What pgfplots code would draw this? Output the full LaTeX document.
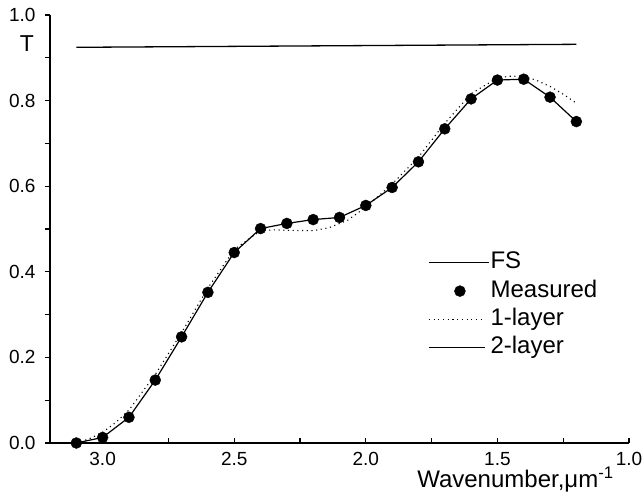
\documentclass[border=0pt]{standalone}
\usepackage{pgfplots}
\pgfplotsset{compat=1.18}
\usepackage{fontspec}
\setmainfont{Liberation Sans}
\pgfplotsset{
  lineleg/.style={legend image code/.code={\draw[##1] (0bp,0bp) -- (#1,0bp);}},
  markleg/.style={legend image code/.code={\draw[mark repeat=2,mark phase=2,##1] plot coordinates {(0bp,0bp) (31bp,0bp) (62bp,0bp)};}},
}
\begin{document}
\begin{tikzpicture}
\path[use as bounding box] (0,0) rectangle (642bp,492bp);
\begin{axis}[
  at={(50bp,49bp)}, anchor=south west,
  scale only axis, width=579bp, height=428bp,
  x dir=reverse,
  xmin=1.0, xmax=3.2, ymin=0, ymax=1.0,
  clip=false,
  axis x line*=bottom, axis y line*=left,
  axis line style={line width=1.4bp},
  xtick={1.0,1.5,2.0,2.5,3.0}, minor x tick num=1,
  ytick={0,0.2,0.4,0.6,0.8,1.0}, minor y tick num=1,
  tick align=outside,
  major tick length=5bp, minor tick length=5bp,
  tick style={line width=1.2bp, black},
  x tick style={yshift=5bp},
  /pgf/number format/assume math mode=true,
  /pgf/number format/.cd, fixed, fixed zerofill, precision=1, /pgfplots/.cd,
  tick label style={font=\fontsize{19bp}{22bp}\selectfont},
  xticklabel style={inner sep=1bp, yshift=-3.5bp},
  yticklabel style={xshift=-6bp},
  xlabel={Wavenumber,μm\textsuperscript{-1}},
  xlabel style={at={(axis description cs:0.634,0)}, anchor=base west, yshift=-44bp, font=\fontsize{24bp}{28bp}\selectfont, inner sep=0pt, text height=13bp},
  ylabel={T},
  ylabel style={rotate=-90, at={(axis description cs:-0.0397,0.914)}, anchor=base, font=\fontsize{23bp}{27bp}\selectfont, inner sep=0pt},
  legend style={draw=none, fill=none, at={(axis description cs:0.653,0.4495)}, anchor=north west,
    font=\fontsize{24bp}{28bp}\selectfont, inner sep=0pt, row sep=4.3bp,
    nodes={inner sep=1bp, text height=17bp, text depth=5bp}},
  legend cell align=left,
]
% FS
\addplot[black, line width=1.3bp, lineleg=60bp]
  coordinates {(3.1,0.9245) (1.2,0.9315)};
\addlegendentry{FS}
% Measured
\addplot[only marks, mark=*, mark size=5.5bp, black, markleg]
  coordinates {
  (3.1,0.000) (3.0,0.013) (2.9,0.060) (2.8,0.147) (2.7,0.248)
  (2.6,0.352) (2.5,0.445) (2.4,0.501) (2.3,0.513) (2.2,0.522)
  (2.1,0.527) (2.0,0.555) (1.9,0.597) (1.8,0.657) (1.7,0.734)
  (1.6,0.804) (1.5,0.848) (1.4,0.850) (1.3,0.808) (1.2,0.751)};
\addlegendentry{Measured}
% 1-layer
\addplot[black, line width=1.1bp, dash pattern=on 1.1bp off 3.6bp, lineleg=56bp]
  coordinates {
  (3.1,0.000) (3.05,0.010) (3.0,0.025) (2.95,0.048) (2.9,0.077)
  (2.8,0.160) (2.7,0.258) (2.6,0.362) (2.5,0.452) (2.4,0.496)
  (2.35,0.498) (2.3,0.497) (2.2,0.496) (2.14,0.503) (2.07,0.520)
  (2.0,0.551) (1.9,0.605) (1.8,0.668) (1.7,0.747) (1.6,0.816)
  (1.5,0.853) (1.45,0.857) (1.4,0.857) (1.35,0.847) (1.3,0.833)
  (1.25,0.815) (1.2,0.794)};
\addlegendentry{1-layer}
% 2-layer
\addplot[black, line width=1.2bp, lineleg=56bp]
  coordinates {
  (3.1,0.000) (3.0,0.013) (2.9,0.060) (2.8,0.147) (2.7,0.248)
  (2.6,0.352) (2.5,0.445) (2.4,0.501) (2.3,0.513) (2.2,0.522)
  (2.1,0.527) (2.0,0.555) (1.9,0.597) (1.8,0.657) (1.7,0.734)
  (1.6,0.804) (1.5,0.848) (1.4,0.850) (1.3,0.808) (1.2,0.751)};
\addlegendentry{2-layer}
\end{axis}
\end{tikzpicture}
\end{document}
